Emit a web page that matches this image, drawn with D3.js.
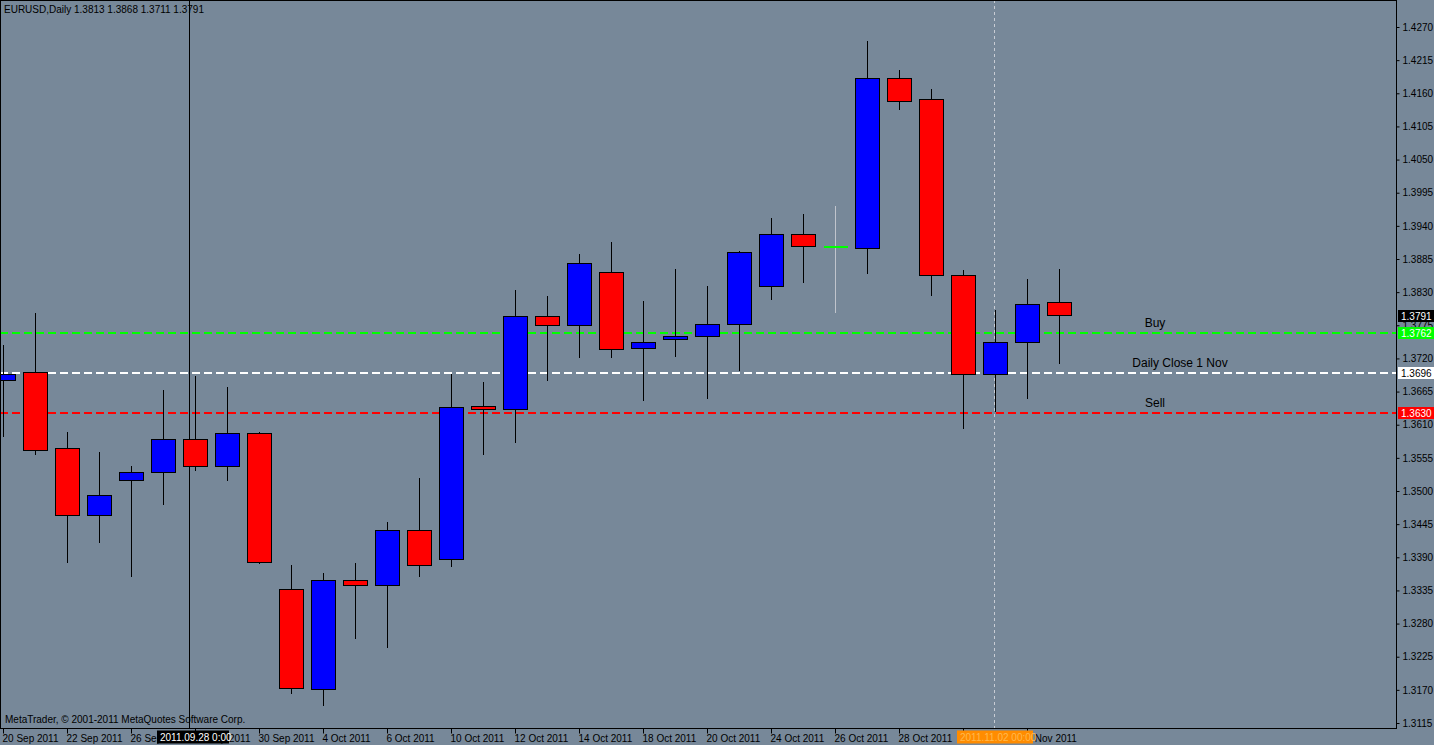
<!DOCTYPE html>
<html>
<head>
<meta charset="utf-8">
<script src="https://cdn.jsdelivr.net/npm/d3@7"></script>
<style>
  body { margin: 0; background: #778899; }
  svg { display: block; font-family: "Liberation Sans", Arial, sans-serif; }
</style>
</head>
<body>
<svg id="chart" width="1434" height="745"></svg>
<script>
// daily candles, 20 Sep 2011 .. 4 Nov 2011
const dates = ['20 Sep 2011', '21 Sep 2011', '22 Sep 2011', '23 Sep 2011', '26 Sep 2011', '27 Sep 2011',
  '28 Sep 2011', '29 Sep 2011', '30 Sep 2011', '3 Oct 2011', '4 Oct 2011', '5 Oct 2011', '6 Oct 2011',
  '7 Oct 2011', '10 Oct 2011', '11 Oct 2011', '12 Oct 2011', '13 Oct 2011', '14 Oct 2011', '17 Oct 2011',
  '18 Oct 2011', '19 Oct 2011', '20 Oct 2011', '21 Oct 2011', '24 Oct 2011', '25 Oct 2011', '26 Oct 2011',
  '27 Oct 2011', '28 Oct 2011', '31 Oct 2011', '1 Nov 2011', '2 Nov 2011', '3 Nov 2011', '4 Nov 2011'];
const opens  = [1.3684, 1.3696, 1.3570, 1.3460, 1.3517, 1.3530, 1.3586, 1.3540, 1.3595, 1.3337, 1.3171, 1.3352,
  1.3344, 1.3435, 1.3387, 1.3641, 1.3636, 1.3789, 1.3775, 1.3863, 1.3736, 1.3751, 1.3756, 1.3777, 1.3839,
  1.3926, 1.3905, 1.3903, 1.4185, 1.4149, 1.3857, 1.3694, 1.3746, 1.3813];
const highs  = [1.3742, 1.3795, 1.3598, 1.3565, 1.3541, 1.3668, 1.3691, 1.3673, 1.3598, 1.3377, 1.3364, 1.3381,
  1.3449, 1.3522, 1.3694, 1.3681, 1.3834, 1.3824, 1.3893, 1.3913, 1.3815, 1.3868, 1.3840, 1.3898, 1.3953,
  1.3960, 1.3973, 1.4247, 1.4199, 1.4167, 1.3867, 1.3800, 1.3852, 1.3868];
const lows   = [1.3590, 1.3560, 1.3381, 1.3414, 1.3357, 1.3477, 1.3533, 1.3517, 1.3379, 1.3163, 1.3143, 1.3254,
  1.3239, 1.3357, 1.3374, 1.3560, 1.3580, 1.3683, 1.3721, 1.3721, 1.3649, 1.3722, 1.3653, 1.3699, 1.3817,
  1.3845, 1.3795, 1.3860, 1.4132, 1.3824, 1.3603, 1.3631, 1.3653, 1.3711];
const closes = [1.3694, 1.3568, 1.3460, 1.3493, 1.3530, 1.3586, 1.3540, 1.3595, 1.3382, 1.3173, 1.3351, 1.3344,
  1.3434, 1.3376, 1.3638, 1.3636, 1.3789, 1.3775, 1.3878, 1.3734, 1.3747, 1.3757, 1.3777, 1.3895, 1.3925,
  1.3905, 1.3905, 1.4185, 1.4147, 1.3857, 1.3694, 1.3746, 1.3810, 1.3791];
const priceTicks = [1.4270, 1.4215, 1.4160, 1.4105, 1.4050, 1.3995, 1.3940, 1.3885, 1.3830, 1.3775, 1.3720,
  1.3665, 1.3610, 1.3555, 1.3500, 1.3445, 1.3390, 1.3335, 1.3280, 1.3225, 1.3170, 1.3115];
const dateTicks = ['20 Sep 2011', '22 Sep 2011', '26 Sep 2011', '28 Sep 2011', '30 Sep 2011', '4 Oct 2011',
  '6 Oct 2011', '10 Oct 2011', '12 Oct 2011', '14 Oct 2011', '18 Oct 2011', '20 Oct 2011', '24 Oct 2011',
  '26 Oct 2011', '28 Oct 2011', '1 Nov 2011', '3 Nov 2011'];
const levels = [
  { name: 'Buy', price: 1.3762, color: '#00ff00', box: '#00ff00', text: '#ffffff', lx: 1155 },
  { name: 'Daily Close 1 Nov', price: 1.3696, color: '#ffffff', box: '#ffffff', text: '#000000', lx: 1180 },
  { name: 'Sell', price: 1.3630, color: '#ff0000', box: '#ff0000', text: '#ffffff', lx: 1155 }
];
const lastPrice = 1.3791;
const crossIndex = 6;   // 2011.09.28
const sepIndex = 31;    // 2011.11.02

const svg = d3.select('#chart');
const W = 1396, H = 728;
const x = d3.scaleLinear().domain([0, 1]).range([3, 35]);
const y = d3.scaleLinear().domain([1.3115, 1.4270]).range([723, 27]);
const bw = 24;
const py = p => Math.round(y(p)) + 0.5;

svg.append('rect').attr('width', 1434).attr('height', 745).attr('fill', '#778899');

svg.append('clipPath').attr('id', 'clip').append('rect').attr('width', W).attr('height', H);
const g = svg.append('g').attr('clip-path', 'url(#clip)').attr('shape-rendering', 'crispEdges');

// separator & crosshair
g.append('line').attr('x1', x(sepIndex) - 0.5).attr('x2', x(sepIndex) - 0.5).attr('y1', 0).attr('y2', H)
  .attr('stroke', '#c8ccd4').attr('stroke-dasharray', '3,3');
g.append('line').attr('x1', x(crossIndex) - 5.5).attr('x2', x(crossIndex) - 5.5).attr('y1', 0).attr('y2', H)
  .attr('stroke', '#000');

// horizontal levels
levels.forEach(l => {
  g.append('line').attr('x1', 0).attr('x2', W).attr('y1', py(l.price) - 0.5).attr('y2', py(l.price) - 0.5)
    .attr('stroke', l.color).attr('stroke-width', 2).attr('stroke-dasharray', '8,4');
});

// candles
d3.range(opens.length).forEach(i => {
  const cx = Math.round(x(i)) + 0.5;
  const o = opens[i], c = closes[i];
  const doji = Math.abs(o - c) < 0.00005;
  g.append('line').attr('x1', cx).attr('x2', cx).attr('y1', y(highs[i])).attr('y2', y(lows[i]))
    .attr('stroke', doji ? '#c0c4cc' : '#000');
  if (doji) {
    g.append('line').attr('x1', cx - bw / 2).attr('x2', cx + bw / 2).attr('y1', py(o) - 0.5).attr('y2', py(o) - 0.5)
      .attr('stroke', '#00ff00').attr('stroke-width', 2);
    return;
  }
  const top = y(Math.max(o, c)), bot = y(Math.min(o, c));
  g.append('rect').attr('x', cx - bw / 2).attr('y', top).attr('width', bw).attr('height', Math.max(1, bot - top))
    .attr('fill', c > o ? '#0000ff' : '#ff0000').attr('stroke', '#000');
});

// level labels
levels.forEach(l => {
  g.append('text').attr('x', l.lx).attr('y', y(l.price) - 6).attr('text-anchor', 'middle')
    .attr('font-size', 12).attr('fill', '#000').text(l.name);
});

// frame
svg.append('rect').attr('x', 0.5).attr('y', 0.5).attr('width', W).attr('height', H)
  .attr('fill', 'none').attr('stroke', '#000').attr('shape-rendering', 'crispEdges');

// right axis
const ay = svg.append('g').attr('transform', `translate(${W + 0.5},0)`)
  .call(d3.axisRight(y).tickValues(priceTicks).tickFormat(d3.format('.4f')).tickSize(3).tickPadding(3));
ay.select('.domain').remove();
ay.selectAll('text').attr('font-size', 10).attr('fill', '#000').attr('font-family', '"Liberation Sans", Arial, sans-serif');
ay.selectAll('line').attr('stroke', '#000');

const priceBox = (p, box, col) => {
  const yy = Math.round(y(p));
  svg.append('rect').attr('x', W + 2).attr('y', yy - 6).attr('width', 36).attr('height', 12).attr('fill', box);
  svg.append('text').attr('x', W + 5).attr('y', yy + 4).attr('font-size', 10).attr('fill', col).text(d3.format('.4f')(p));
};
priceBox(lastPrice, '#000', '#fff');
levels.forEach(l => priceBox(l.price, l.box, l.text));

// bottom axis
const ax = svg.append('g').attr('transform', `translate(0,${H + 0.5})`);
dateTicks.forEach(d => {
  const tx = Math.round(x(dates.indexOf(d))) + 0.5;
  ax.append('line').attr('x1', tx).attr('x2', tx).attr('y1', 0).attr('y2', 5).attr('stroke', '#000');
  ax.append('text').attr('x', tx - 1).attr('y', 13).attr('font-size', 10).attr('fill', '#000').text(d);
});
const dateBox = (i, label, box, col, w) => {
  const tx = x(i) - 38;
  ax.append('rect').attr('x', tx).attr('y', 2).attr('width', w).attr('height', 13).attr('fill', box);
  ax.append('text').attr('x', tx + 3).attr('y', 12).attr('font-size', 10).attr('fill', col).text(label);
};
dateBox(crossIndex, '2011.09.28 0:00', '#000', '#fff', 72);
dateBox(sepIndex, '2011.11.02 00:00', '#ff8c00', '#ffb84d', 76);

// header & footer
svg.append('text').attr('x', 4).attr('y', 13).attr('font-size', 10).attr('fill', '#000')
  .text('EURUSD,Daily  1.3813 1.3868 1.3711 1.3791');
svg.append('text').attr('x', 5).attr('y', 723).attr('font-size', 10).attr('fill', '#000')
  .text('MetaTrader, © 2001-2011 MetaQuotes Software Corp.');
</script>
</body>
</html>
